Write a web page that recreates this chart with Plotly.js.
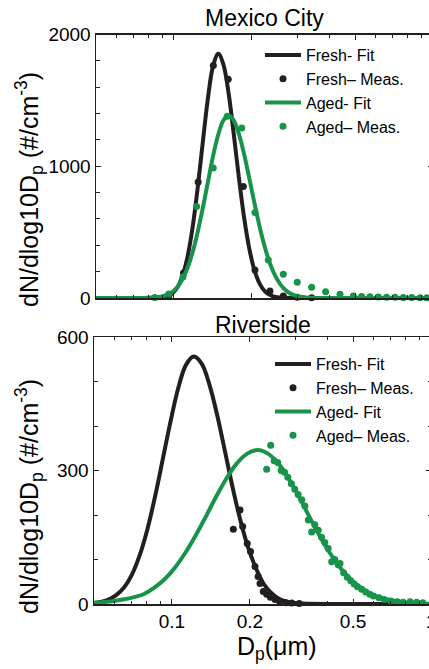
<!DOCTYPE html>
<html>
<head>
<meta charset="utf-8">
<script src="https://cdn.plot.ly/plotly-3.0.1.min.js"></script>
<style>
html,body{margin:0;padding:0;overflow:hidden;background:#ffffff;}
#chart{width:440px;height:669px;}
</style>
</head>
<body>
<div id="chart"></div>
<script>
// ---------- Mexico City ----------
const mcFreshFitX = [0.05, 0.07, 0.0853, 0.0893, 0.0935, 0.0979, 0.1026, 0.1074, 0.1125, 0.1178, 0.1233, 0.1291, 0.1352, 0.1416, 0.1483, 0.1552, 0.1626, 0.1702, 0.1782, 0.1866, 0.1954, 0.2046, 0.2143, 0.2244, 0.2350, 0.2460, 0.2576, 0.2698, 0.32, 1.0];
const mcFreshFitY = [0, 0, 1, 4, 12, 31, 74, 157, 302, 526, 828, 1177, 1515, 1762, 1853, 1772, 1551, 1241, 908, 608, 373, 209, 107, 50, 22, 8, 3, 1, 0, 0];
const mcFreshMeasX = [0.0955, 0.1088, 0.1240, 0.1419, 0.1620, 0.1852, 0.2054, 0.2348, 0.2643, 0.2992, 0.3400];
const mcFreshMeasY = [17, 190, 880, 1765, 1660, 847, 213, 53, 15, 5, 2];
const mcAgedFitX = [0.05, 0.07, 0.0813, 0.0851, 0.0891, 0.0933, 0.0977, 0.1023, 0.1071, 0.1122, 0.1175, 0.1230, 0.1288, 0.1349, 0.1412, 0.1479, 0.1549, 0.1622, 0.1698, 0.1778, 0.1862, 0.1950, 0.2042, 0.2138, 0.2239, 0.2344, 0.2455, 0.2570, 0.2692, 0.2818, 0.2951, 0.3090, 0.3236, 0.3388, 0.40, 1.0];
const mcAgedFitY = [0, 0, 2, 5, 10, 21, 41, 76, 132, 216, 334, 487, 670, 870, 1067, 1233, 1345, 1385, 1350, 1249, 1098, 916, 726, 547, 391, 265, 171, 105, 61, 34, 18, 9, 4, 2, 0, 0];
const mcAgedMeasX = [0.0843, 0.0955, 0.1083, 0.1223, 0.1418, 0.1606, 0.1826, 0.2054, 0.2312, 0.2643, 0.2992, 0.340, 0.385, 0.4375, 0.4924, 0.530, 0.571, 0.615, 0.662, 0.713, 0.768, 0.827, 0.891, 0.946];
const mcAgedMeasY = [3, 30, 160, 694, 986, 1379, 1290, 649, 289, 180, 119, 81, 48, 28, 15, 12, 10, 8, 6, 5, 4, 3, 2, 2];

// ---------- Riverside ----------
const rvFreshFitX = [0.0495, 0.0531, 0.0569, 0.0609, 0.0653, 0.0699, 0.0749, 0.0803, 0.0860, 0.0922, 0.0988, 0.1058, 0.1134, 0.1215, 0.1302, 0.1395, 0.1495, 0.1602, 0.1716, 0.1839, 0.1970, 0.2111, 0.2262, 0.2424, 0.2597, 0.2783, 0.2982, 0.3195, 0.40, 1.0];
const rvFreshFitY = [2, 4.5, 10, 20, 37, 65, 108, 167, 241, 326, 411, 486, 538, 556, 540, 493, 424, 343, 261, 187, 126, 80, 45, 24, 11, 5, 2, 1, 0, 0];
const rvFreshMeasX = [0.1725, 0.1831, 0.1875, 0.1953, 0.2010, 0.2092, 0.2150, 0.2187, 0.2252, 0.2320, 0.2400, 0.2500, 0.2600, 0.2750, 0.2900, 0.3100];
const rvFreshMeasY = [168, 211, 174, 136, 118, 84, 62, 46, 28, 22, 15, 10, 6, 3, 2, 1];
const rvAgedFitX = [0.05, 0.0537, 0.0589, 0.0646, 0.0708, 0.0777, 0.0852, 0.0934, 0.1024, 0.1123, 0.1231, 0.1350, 0.1480, 0.1623, 0.1780, 0.1952, 0.2140, 0.2347, 0.2573, 0.2821, 0.3093, 0.3392, 0.3719, 0.4078, 0.4472, 0.4903, 0.5376, 0.5895, 0.6464, 0.7088, 0.7772, 0.8522, 1.0];
const rvAgedFitY = [3, 4, 6, 10, 15, 22, 36, 55, 81, 114, 153, 196, 241, 282, 316, 338, 346, 338, 316, 282, 241, 196, 153, 114, 81, 55, 36, 22, 13, 8, 4, 2, 0];
const rvAgedMeasX = [0.2320, 0.2405, 0.2480, 0.2560, 0.2640, 0.2720, 0.2800, 0.2890, 0.2980, 0.3070, 0.3170, 0.3260, 0.3360, 0.3462, 0.3560, 0.3670, 0.3780, 0.3890, 0.4010, 0.4136, 0.4250, 0.4380, 0.4454, 0.4600, 0.4750, 0.4900, 0.5050, 0.5200, 0.5400, 0.5600, 0.5800, 0.6000, 0.6300, 0.6600, 0.7000, 0.7400, 0.7800, 0.8300, 0.8800, 0.9300];
const rvAgedMeasY = [303, 357, 322, 318, 300, 296, 285, 270, 258, 246, 234, 220, 189, 162, 178, 166, 150, 138, 125, 95, 100, 88, 91, 70, 60, 52, 45, 39, 33, 27, 22, 18, 14, 10, 7, 5, 4, 5, 4, 3];

// ---------- ticks & labels ----------
const xTickVals = [0.1, 0.2, 0.5, 1];
const xTickText = ['0.1', '0.2', '0.5', '1'];
const xMinorVals = [0.06, 0.07, 0.08, 0.09, 0.3, 0.4, 0.6, 0.7, 0.8, 0.9];
const mcYTicks = [0, 1000, 2000];
const rvYTicks = [0, 300, 600];
const seriesNames = ['Fresh- Fit', 'Fresh\u2013 Meas.', 'Aged- Fit', 'Aged\u2013 Meas.'];
const panelTitles = ['Mexico City', 'Riverside'];

const FONT = 'Liberation Sans, Arial, Helvetica, sans-serif';
const BLACK = '#231f20';
const GREEN = '#17934a';
const W = 440, H = 669;

function fitTrace(x, y, color, name, xa, ya, lg) {
  return {x: x, y: y, type: 'scatter', mode: 'lines', name: name, xaxis: xa, yaxis: ya, legend: lg,
    line: {color: color, width: 4, shape: 'spline', smoothing: 1}, hoverinfo: 'skip'};
}
function measTrace(x, y, color, name, xa, ya, lg) {
  return {x: x, y: y, type: 'scatter', mode: 'markers', name: name, xaxis: xa, yaxis: ya, legend: lg,
    marker: {color: color, size: 7}, cliponaxis: false, hoverinfo: 'skip'};
}

const data = [
  fitTrace(mcFreshFitX, mcFreshFitY, BLACK, seriesNames[0], 'x', 'y', 'legend'),
  measTrace(mcFreshMeasX, mcFreshMeasY, BLACK, seriesNames[1], 'x', 'y', 'legend'),
  fitTrace(mcAgedFitX, mcAgedFitY, GREEN, seriesNames[2], 'x', 'y', 'legend'),
  measTrace(mcAgedMeasX, mcAgedMeasY, GREEN, seriesNames[3], 'x', 'y', 'legend'),
  fitTrace(rvFreshFitX, rvFreshFitY, BLACK, seriesNames[0], 'x2', 'y2', 'legend2'),
  measTrace(rvFreshMeasX, rvFreshMeasY, BLACK, seriesNames[1], 'x2', 'y2', 'legend2'),
  fitTrace(rvAgedFitX, rvAgedFitY, GREEN, seriesNames[2], 'x2', 'y2', 'legend2'),
  measTrace(rvAgedMeasX, rvAgedMeasY, GREEN, seriesNames[3], 'x2', 'y2', 'legend2')
];

function xAxis(domainPx, anchor, showLabels) {
  return {
    type: 'log', range: [Math.log10(0.05), 0], domain: [domainPx[0] / W, domainPx[1] / W], anchor: anchor,
    tickmode: 'array', tickvals: xTickVals, ticktext: xTickText, showticklabels: showLabels,
    ticks: 'inside', ticklen: 5, tickwidth: 1, tickcolor: BLACK,
    minor: {tickmode: 'array', tickvals: xMinorVals, ticks: 'inside', ticklen: 3, tickwidth: 1, tickcolor: BLACK, showgrid: false},
    showline: true, linecolor: BLACK, linewidth: 1.5, mirror: 'ticks',
    showgrid: false, zeroline: false,
    tickfont: {family: FONT, size: 19, color: '#000'}
  };
}
function yAxis(topPx, botPx, anchor, ticks, maxV, minorStep) {
  return {
    range: [0, maxV], domain: [1 - botPx / H, 1 - topPx / H], anchor: anchor,
    tickmode: 'array', tickvals: ticks, ticktext: ticks.map(String),
    ticks: 'inside', ticklen: 5, tickwidth: 1, tickcolor: BLACK,
    minor: {dtick: minorStep, ticks: 'inside', ticklen: 3.5, tickwidth: 1, tickcolor: BLACK, showgrid: false},
    showline: true, linecolor: BLACK, linewidth: 1.5, mirror: 'ticks',
    showgrid: false, zeroline: false,
    tickfont: {family: FONT, size: 19, color: '#000'}
  };
}

const yTitle = 'dN/dlog10D<sub>p</sub> (#/cm<sup>-3</sup>)';

const layout = {
  width: W, height: H,
  margin: {l: 0, r: 0, t: 0, b: 0},
  paper_bgcolor: '#ffffff', plot_bgcolor: '#ffffff',
  font: {family: FONT, color: '#000'},
  showlegend: true,
  xaxis: xAxis([96, 433], 'y', false),
  yaxis: yAxis(34.5, 298, 'x', mcYTicks, 2000, 200),
  xaxis2: xAxis([94, 431], 'y2', true),
  yaxis2: yAxis(337, 604, 'x2', rvYTicks, 600, 100),
  legend: {x: 260 / W, y: 1 - 38 / H, xanchor: 'left', yanchor: 'top', bgcolor: 'rgba(0,0,0,0)',
    borderwidth: 0, font: {family: FONT, size: 16, color: '#000'}, tracegroupgap: 0, itemwidth: 36},
  legend2: {x: 270 / W, y: 1 - 347 / H, xanchor: 'left', yanchor: 'top', bgcolor: 'rgba(0,0,0,0)',
    borderwidth: 0, font: {family: FONT, size: 16, color: '#000'}, tracegroupgap: 0, itemwidth: 36},
  annotations: [
    {text: panelTitles[0], xref: 'paper', yref: 'paper', x: 264 / W, y: 1 - 18 / H, xanchor: 'center', yanchor: 'middle',
      showarrow: false, font: {family: FONT, size: 23, color: '#000'}},
    {text: panelTitles[1], xref: 'paper', yref: 'paper', x: 263 / W, y: 1 - 325 / H, xanchor: 'center', yanchor: 'middle',
      showarrow: false, font: {family: FONT, size: 23, color: '#000'}},
    {text: yTitle, xref: 'paper', yref: 'paper', x: 29 / W, y: 1 - 190 / H, xanchor: 'center', yanchor: 'middle',
      textangle: -90, showarrow: false, font: {family: FONT, size: 25, color: '#000'}},
    {text: yTitle, xref: 'paper', yref: 'paper', x: 29 / W, y: 1 - 497 / H, xanchor: 'center', yanchor: 'middle',
      textangle: -90, showarrow: false, font: {family: FONT, size: 25, color: '#000'}},
    {text: 'D<sub>p</sub>(\u03bcm)', xref: 'paper', yref: 'paper', x: 277 / W, y: 1 - 648 / H, xanchor: 'center', yanchor: 'middle',
      showarrow: false, font: {family: FONT, size: 25, color: '#000'}}
  ]
};

Plotly.newPlot('chart', data, layout, {displayModeBar: false, staticPlot: true});
</script>
</body>
</html>
